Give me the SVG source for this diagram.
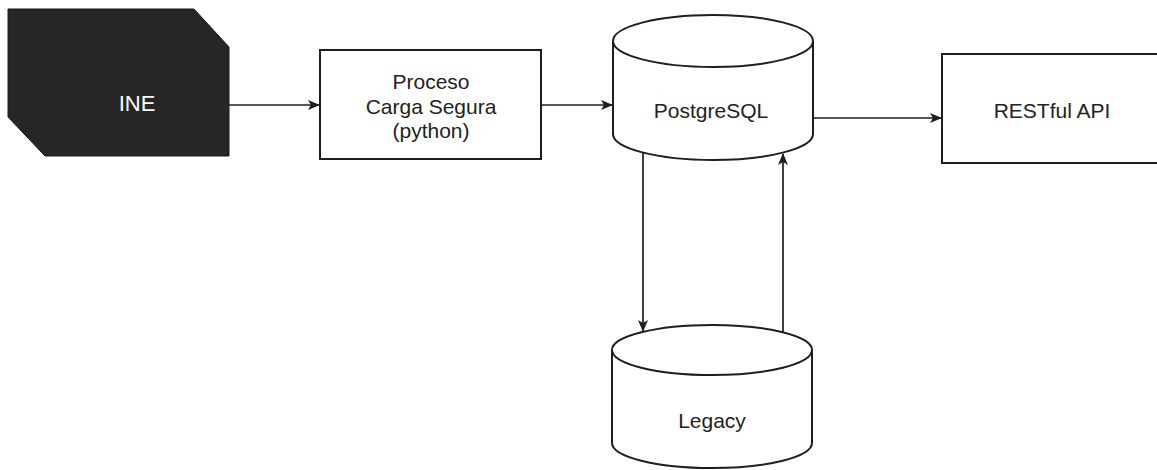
<svg xmlns="http://www.w3.org/2000/svg" width="1157" height="470" viewBox="0 0 1157 470">
<style>
.box{fill:#fff;stroke:#1e1e1e;stroke-width:2}
.lbl{font-family:"Liberation Sans",Arial,sans-serif;font-size:21px;fill:#222;text-anchor:middle}
.edge{fill:none;stroke:#1e1e1e;stroke-width:1.7}
</style>
<defs>
<marker id="arr" markerUnits="userSpaceOnUse" markerWidth="12" markerHeight="10" refX="11" refY="5" orient="auto">
<path d="M0,0 L12,5 L0,10 L3,5 z" fill="#1e1e1e"/>
</marker>
</defs>
<rect width="1157" height="470" fill="#fff"/>
<g id="ine">
<polygon points="8,9 194,9 229,47 229,156 45,156 8,117" fill="#262626" stroke="#1a1a1a" stroke-width="1"/>
<text class="lbl" x="137" y="111" style="fill:#fff;font-size:22px">INE</text>
</g>
<g id="proceso">
<rect class="box" x="320" y="50" width="221" height="109"/>
<text class="lbl" x="431" y="89">Proceso</text>
<text class="lbl" x="431" y="114">Carga Segura</text>
<text class="lbl" x="431" y="138">(python)</text>
</g>
<g id="postgresql">
<path class="box" d="M613,41 A100,26 0 0 1 813,41 L813,134 A100,26 0 0 1 613,134 Z"/>
<path class="box" style="fill:none" d="M613,41 A100,26 0 0 0 813,41"/>
<text class="lbl" x="711" y="118">PostgreSQL</text>
</g>
<g id="restful">
<rect class="box" x="942" y="54" width="220" height="109"/>
<text class="lbl" x="1052" y="118">RESTful API</text>
</g>
<g id="legacy">
<path class="box" d="M612,350 A100,25 0 0 1 812,350 L812,443 A100,25 0 0 1 612,443 Z"/>
<path class="box" style="fill:none" d="M612,350 A100,25 0 0 0 812,350"/>
<text class="lbl" x="712" y="428">Legacy</text>
</g>
<g id="connectors">
<line class="edge" x1="229" y1="105" x2="319" y2="105" marker-end="url(#arr)"/>
<line class="edge" x1="541" y1="105" x2="612" y2="105" marker-end="url(#arr)"/>
<line class="edge" x1="813" y1="118" x2="941" y2="118" marker-end="url(#arr)"/>
<line class="edge" x1="643" y1="153" x2="643" y2="331" marker-end="url(#arr)"/>
<line class="edge" x1="783" y1="332" x2="783" y2="154" marker-end="url(#arr)"/>
</g>
</svg>
